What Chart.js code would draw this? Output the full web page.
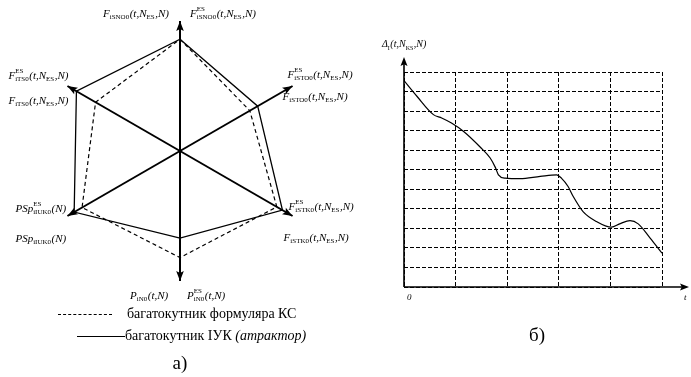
<!DOCTYPE html>
<html>
<head>
<meta charset="utf-8">
<script src="https://cdn.jsdelivr.net/npm/chart.js@4/dist/chart.umd.min.js"></script>
<style>
  html, body { margin: 0; padding: 0; background: #fff; }
  #page { position: relative; width: 691px; height: 377px; overflow: hidden; font-family: "Liberation Serif", "Times New Roman", serif; color: #000; }
  #radarBox { position: absolute; left: 0; top: 0; width: 360px; height: 377px; }
  #trendBox { position: absolute; left: 360px; top: 0; width: 331px; height: 377px; }
  .keyLine { position: absolute; height: 0; }
  .keyText { position: absolute; font-size: 14px; line-height: 18px; white-space: nowrap; }
  .caption { position: absolute; font-size: 19px; line-height: 22px; transform: translateX(-50%); }
</style>
</head>
<body>
<div id="page">
  <div id="radarBox"><canvas id="radar"></canvas></div>
  <div id="trendBox"><canvas id="trend"></canvas></div>

  <div class="keyLine" style="left:58px; top:314px; width:54px; border-top:1px dashed #000;"></div>
  <div class="keyText" style="left:127px; top:305px;">багатокутник формуляра КС</div>
  <div class="keyLine" style="left:77px; top:336px; width:48px; border-top:1px solid #000;"></div>
  <div class="keyText" style="left:125px; top:327px;">багатокутник ІУК <i>(атрактор)</i></div>

  <div class="caption" style="left:180px; top:352px;">а)</div>
  <div class="caption" style="left:537px; top:324px;">б)</div>
</div>

<script>
// radar axes, clockwise from the top
const axisNames = ["SNO", "STO", "STK", "N", "IUK", "TS"];
const formularValues = [86, 62, 86, 82, 87, 75];
const attractorValues = [86, 69, 91, 67, 94, 92];

// two labels per axis: the formulary one and the ES one
const axisLabelsA = [
  "F_{iSNO0}(t,N_{ES},N)",
  "F^{ES}_{iSTO0}(t,N_{ES},N)",
  "F^{ES}_{iSTK0}(t,N_{ES},N)",
  "P_{iN0}(t,N)",
  "PSp^{ES}_{iIUK0}(N)",
  "F^{ES}_{iTS0}(t,N_{ES},N)"
];
const axisLabelsB = [
  "F^{ES}_{iSNO0}(t,N_{ES},N)",
  "F_{iSTO0}(t,N_{ES},N)",
  "F_{iSTK0}(t,N_{ES},N)",
  "P^{ES}_{iN0}(t,N)",
  "PSp_{iIUK0}(N)",
  "F_{iTS0}(t,N_{ES},N)"
];

// deviation curve over time
const curveX = [0, 0.25, 0.57, 0.73, 0.92, 1.15, 1.48, 1.67, 1.77, 1.83, 1.96, 2.25, 2.64, 2.96, 3.05, 3.18, 3.28, 3.47, 3.73, 4.02, 4.18, 4.38, 4.54, 4.77, 5.0];
const curveY = [10.56, 9.76, 8.82, 8.65, 8.39, 7.97, 7.15, 6.6, 6.12, 5.74, 5.57, 5.54, 5.66, 5.74, 5.57, 5.14, 4.63, 3.86, 3.35, 3.06, 3.23, 3.4, 3.23, 2.5, 1.73];
const trendYLabel = "\u0394_{I}(t,N_{KS},N)";
const trendXLabels = ["0", "t"];

// draws text with _{sub} and ^{sup} parts; y is the vertical middle
function drawMath(ctx, str, x, y, size) {
  size = size || 11;
  const main = "italic " + size + "px 'Liberation Serif'";
  const small = Math.round(size * 0.62) + "px 'Liberation Serif'";
  const base = y + size * 0.33;
  let i = 0;
  let cx = x;
  ctx.save();
  ctx.fillStyle = "#000";
  ctx.textBaseline = "alphabetic";
  ctx.textAlign = "left";
  const readGroup = (from) => {
    const end = str.indexOf("}", from);
    return { text: str.slice(from + 2, end), next: end + 1 };
  };
  while (i < str.length) {
    const ch = str[i];
    if ((ch === "^" || ch === "_") && str[i + 1] === "{") {
      let sup = null, sub = null;
      let g = readGroup(i);
      if (ch === "^") sup = g.text; else sub = g.text;
      i = g.next;
      if ((str[i] === "_" || str[i] === "^") && str[i + 1] === "{") {
        const g2 = readGroup(i);
        if (str[i] === "_") sub = g2.text; else sup = g2.text;
        i = g2.next;
      }
      ctx.font = small;
      let w = 0;
      if (sup) { ctx.fillText(sup, cx, base - size * 0.5); w = Math.max(w, ctx.measureText(sup).width); }
      if (sub) { ctx.fillText(sub, cx, base + size * 0.22); w = Math.max(w, ctx.measureText(sub).width); }
      cx += w + 0.5;
    } else {
      ctx.font = main;
      ctx.fillText(ch, cx, base);
      cx += ctx.measureText(ch).width;
      i++;
    }
  }
  ctx.restore();
}

function arrowHead(ctx, x, y, angle, len, half) {
  ctx.save();
  ctx.translate(x, y);
  ctx.rotate(angle);
  ctx.beginPath();
  ctx.moveTo(0, 0);
  ctx.lineTo(-len, -half);
  ctx.lineTo(-len * 0.8, 0);
  ctx.lineTo(-len, half);
  ctx.closePath();
  ctx.fillStyle = "#000";
  ctx.fill();
  ctx.restore();
}

// label placement relative to each arrow tip: [dx, dy] for label A and B
const labelOffsets = [
  [[-77, -8], [10, -8]],
  [[-5, -12], [-10, 10]],
  [[-4, -10], [-9, 21]],
  [[-50, 14], [7, 14]],
  [[-52, -8], [-52, 22]],
  [[-59, -11], [-59, 14]]
];

const radarDecor = {
  id: "radarDecor",
  afterDraw(chart) {
    const scale = chart.scales.r;
    const ctx = chart.ctx;
    for (let i = 0; i < axisNames.length; i++) {
      const tip = scale.getPointPosition(i, scale.drawingArea);
      const ang = Math.atan2(tip.y - scale.yCenter, tip.x - scale.xCenter);
      arrowHead(ctx, tip.x, tip.y, ang, 10, 3.8);
      const [a, b] = labelOffsets[i];
      drawMath(ctx, axisLabelsA[i], tip.x + a[0], tip.y + a[1]);
      drawMath(ctx, axisLabelsB[i], tip.x + b[0], tip.y + b[1]);
    }
  }
};

new Chart(document.getElementById("radar"), {
  type: "radar",
  data: {
    labels: axisNames,
    datasets: [
      {
        data: formularValues,
        borderColor: "#000",
        borderWidth: 1.2,
        borderDash: [4, 3],
        backgroundColor: "transparent",
        fill: false,
        pointRadius: 0
      },
      {
        data: attractorValues,
        borderColor: "#000",
        borderWidth: 1.3,
        backgroundColor: "transparent",
        fill: false,
        pointRadius: 0
      }
    ]
  },
  options: {
    responsive: true,
    maintainAspectRatio: false,
    animation: false,
    layout: { padding: { left: 50, right: 50, top: 21, bottom: 96 } },
    plugins: { legend: { display: false }, tooltip: { enabled: false } },
    scales: {
      r: {
        min: 0,
        max: 100,
        ticks: { display: false },
        grid: { display: false },
        angleLines: { color: "#000", lineWidth: 2 },
        pointLabels: { display: false }
      }
    }
  },
  plugins: [radarDecor]
});

const trendDecor = {
  id: "trendDecor",
  afterDraw(chart) {
    const { ctx, chartArea } = chart;
    const x0 = chart.scales.x.getPixelForValue(0);
    const y0 = chart.scales.y.getPixelForValue(0);
    const topTip = chartArea.top - 15;
    const rightTip = chartArea.right + 27;
    ctx.save();
    ctx.strokeStyle = "#000";
    ctx.lineWidth = 1.6;
    ctx.beginPath();
    ctx.moveTo(x0, y0);
    ctx.lineTo(x0, topTip + 4);
    ctx.moveTo(x0, y0);
    ctx.lineTo(rightTip - 4, y0);
    ctx.stroke();
    ctx.restore();
    arrowHead(ctx, x0, topTip, -Math.PI / 2, 9, 3.5);
    arrowHead(ctx, rightTip, y0, 0, 9, 3.5);

    drawMath(ctx, trendYLabel, x0 - 22, chartArea.top - 28, 10);
    ctx.save();
    ctx.font = "italic 9px 'Liberation Serif'";
    ctx.fillStyle = "#000";
    ctx.textBaseline = "middle";
    ctx.fillText(trendXLabels[0], x0 + 3, y0 + 11);
    ctx.fillText(trendXLabels[1], rightTip - 5, y0 + 11);
    ctx.restore();
  }
};

const gridStyle = { color: "#000", lineWidth: 1, drawTicks: false };

new Chart(document.getElementById("trend"), {
  type: "line",
  data: {
    datasets: [
      {
        data: curveX.map((x, i) => ({ x: x, y: curveY[i] })),
        borderColor: "#000",
        borderWidth: 1.2,
        pointRadius: 0,
        cubicInterpolationMode: "monotone",
        fill: false
      }
    ]
  },
  options: {
    responsive: true,
    maintainAspectRatio: false,
    animation: false,
    layout: { padding: { left: 44, right: 29, top: 72, bottom: 90 } },
    plugins: { legend: { display: false }, tooltip: { enabled: false } },
    scales: {
      x: {
        type: "linear",
        min: 0,
        max: 5,
        ticks: { display: false, stepSize: 1 },
        grid: gridStyle,
        border: { display: false, dash: [4, 2] }
      },
      y: {
        min: 0,
        max: 11,
        ticks: { display: false, stepSize: 1 },
        grid: gridStyle,
        border: { display: false, dash: [4, 2] }
      }
    }
  },
  plugins: [trendDecor]
});
</script>
</body>
</html>
